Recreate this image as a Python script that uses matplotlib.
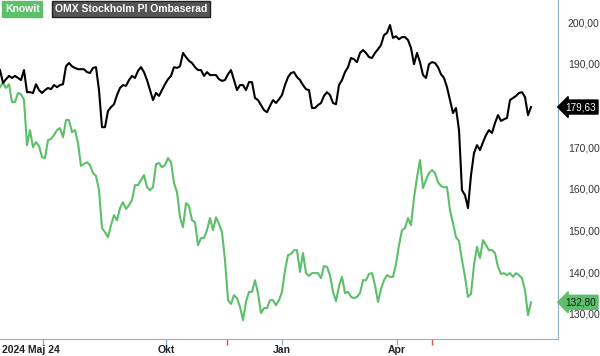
import numpy as np
import matplotlib
matplotlib.use("Agg")
import matplotlib.pyplot as plt
import matplotlib.transforms as mtransforms

plt.rcParams['font.family'] = ['Liberation Sans', 'DejaVu Sans']

# rebased OMX Stockholm PI (black) and Knowit (green), sampled ~every 1.6 trading days
omx = [188.5, 185.4, 186.3, 187.1, 186.6, 187.1, 186.6, 186.1, 188.5, 183.2,
       183.2, 183.0, 185.1, 183.7, 183.0, 183.7, 184.2, 183.9, 184.9, 184.4,
       184.9, 185.1, 189.4, 190.2, 189.4, 189.0, 188.7, 188.7, 188.7, 188.0,
       187.8, 189.0, 189.2, 183.7, 174.8, 174.8, 178.7, 179.6, 180.3, 182.5,
       184.2, 184.9, 184.7, 186.1, 187.1, 186.6, 188.3, 189.2, 188.0, 186.1,
       183.7, 181.3, 183.0, 182.3, 183.7, 185.1, 186.3, 187.1, 189.2, 189.0,
       189.4, 192.6, 191.6, 190.7, 190.2, 189.2, 188.5, 188.5, 187.1, 188.0,
       187.3, 187.3, 187.3, 186.3, 185.9, 186.1, 187.5, 188.5, 186.1, 183.7,
       184.9, 184.9, 183.7, 185.6, 185.6, 181.8, 181.3, 180.1, 178.9, 178.4,
       179.9, 181.3, 180.6, 181.5, 182.5, 184.9, 186.8, 187.8, 188.0, 186.8,
       186.1, 184.9, 183.9, 183.7, 179.4, 179.4, 180.1, 180.6, 182.3, 183.2,
       182.5, 180.6, 180.3, 184.9, 186.1, 188.0, 189.2, 191.4, 191.1, 190.4,
       192.6, 193.3, 192.6, 191.6, 191.4, 192.6, 193.5, 194.5, 196.9, 197.4,
       199.3, 196.2, 196.6, 195.9, 196.4, 196.4, 195.7, 193.8, 189.9, 192.6,
       190.4, 187.3, 186.6, 189.9, 190.4, 190.2, 189.2, 187.5, 186.6, 184.4,
       181.3, 178.2, 179.4, 174.1, 159.7, 158.5, 155.4, 163.3, 168.6, 170.5,
       169.3, 171.2, 172.9, 174.1, 173.4, 175.8, 177.7, 176.3, 176.7, 177.0,
       181.3, 181.8, 182.3, 183.0, 183.2, 182.0, 177.7, 179.63]

knowit = [184.4, 185.4, 184.2, 185.1, 180.8, 180.8, 183.0, 182.7, 181.3, 170.5,
          174.1, 170.0, 171.2, 170.3, 167.6, 167.4, 171.7, 172.0, 172.9, 174.1,
          174.6, 172.4, 176.5, 176.5, 173.6, 174.1, 171.0, 165.5, 166.0, 166.4,
          165.7, 163.8, 163.1, 159.7, 150.6, 149.6, 148.4, 151.3, 153.7, 152.5,
          155.4, 156.8, 155.2, 156.1, 157.3, 160.9, 160.9, 162.1, 163.3, 160.4,
          159.7, 160.4, 165.9, 166.2, 165.2, 165.7, 167.4, 166.4, 161.4, 159.2,
          153.2, 150.8, 156.6, 155.9, 152.5, 152.0, 146.5, 148.2, 148.2, 150.1,
          153.0, 150.1, 153.2, 151.6, 149.6, 142.9, 133.3, 132.4, 134.5, 133.8,
          131.7, 128.5, 132.9, 135.3, 135.3, 138.1, 135.0, 130.2, 131.4, 131.4,
          133.3, 133.3, 132.1, 133.3, 135.3, 140.5, 144.1, 144.4, 145.3, 145.3,
          140.1, 144.6, 139.8, 139.1, 139.8, 139.8, 139.8, 138.6, 141.5, 141.3,
          139.3, 135.3, 133.1, 136.7, 138.9, 135.0, 135.3, 134.1, 133.8, 134.1,
          135.0, 138.1, 138.1, 139.6, 139.8, 136.9, 132.9, 136.0, 138.1, 139.3,
          138.9, 138.9, 142.0, 146.5, 150.1, 150.6, 153.0, 151.3, 157.8, 162.8,
          166.9, 160.2, 162.1, 163.8, 164.5, 163.8, 161.6, 160.7, 160.4, 160.4,
          154.9, 151.8, 148.4, 147.5, 142.9, 138.9, 134.1, 134.8, 141.8, 146.1,
          143.4, 147.7, 146.5, 145.3, 145.3, 144.6, 141.3, 139.6, 139.8, 139.3,
          139.8, 138.9, 139.8, 139.3, 138.6, 135.7, 129.7, 132.8]

month_pos = [14.3, 55.3, 94.0, 132.3]
month_labels = ['2024 Maj 24', 'Okt', 'Jan', 'Apr']
report_pos = [75.7, 144.0]
yticks = [130, 140, 150, 160, 170, 190, 200]   # 180 hidden behind the OMX tag

green = '#5cbf6a'
spine_col = '#8fb0c6'

fig = plt.figure(figsize=(6, 3.56), dpi=100)
ax = fig.add_axes([0, 17 / 356, 558 / 600, 339 / 356])

x = np.arange(len(omx))
ax.plot(x, knowit, color=green, lw=1.5)
ax.plot(x, omx, color='black', lw=1.5)

ax.set_xlim(0, 186)
ax.set_ylim(124.0, 205.3)

for s in ['top', 'left']:
    ax.spines[s].set_visible(False)
ax.spines['right'].set_color(spine_col)
ax.spines['bottom'].set_color(spine_col)

ax.yaxis.tick_right()
ax.set_yticks(yticks)
ax.set_yticklabels([f'{v:.2f}'.replace('.', ',') for v in yticks])
ax.tick_params(axis='y', length=0, pad=7, labelsize=7.5, labelcolor='#333333')

ax.set_xticks(month_pos)
ax.set_xticklabels([])
ax.set_xticks(report_pos, minor=True)
ax.tick_params(axis='x', which='major', length=4, width=1, color=spine_col)
ax.tick_params(axis='x', which='minor', length=4, width=1, color='#e05050')

# month labels
btr = mtransforms.blended_transform_factory(ax.transData, ax.transAxes)
for p, lab in zip(month_pos, month_labels):
    if lab.startswith('2024'):
        ax.text(0.6, -0.032, lab, transform=btr, ha='left', va='center',
                fontsize=7.5, fontweight='bold', color='#222222')
    else:
        ax.text(p, -0.032, lab, transform=btr, ha='center', va='center',
                fontsize=7.5, fontweight='bold', color='#222222')

# last value tags on the right axis
tr = mtransforms.blended_transform_factory(ax.transAxes, ax.transData)
ax.text(1.013, omx[-1], f'{omx[-1]:.2f}'.replace('.', ','), transform=tr, ha='left', va='center',
        fontsize=7.2, color='white', clip_on=False,
        bbox=dict(boxstyle='larrow,pad=0.2', fc='black', ec='black'))
ax.text(1.013, knowit[-1], f'{knowit[-1]:.2f}'.replace('.', ','), transform=tr, ha='left', va='center',
        fontsize=7.2, color='#1a1a1a', clip_on=False,
        bbox=dict(boxstyle='larrow,pad=0.2', fc=green, ec=green))

# legend boxes
fig.text(5 / 600, 1 - 9 / 356, 'Knowit', ha='left', va='center', fontsize=7.5, fontweight='bold', color='white',
         bbox=dict(boxstyle='square,pad=0.25', fc=green, ec=green))
fig.text(55 / 600, 1 - 9 / 356, 'OMX Stockholm PI Ombaserad', ha='left', va='center', fontsize=7.5,
         fontweight='bold', color='white',
         bbox=dict(boxstyle='square,pad=0.25', fc='#555555', ec='#222222'))

fig.savefig('out.png', dpi=100)
